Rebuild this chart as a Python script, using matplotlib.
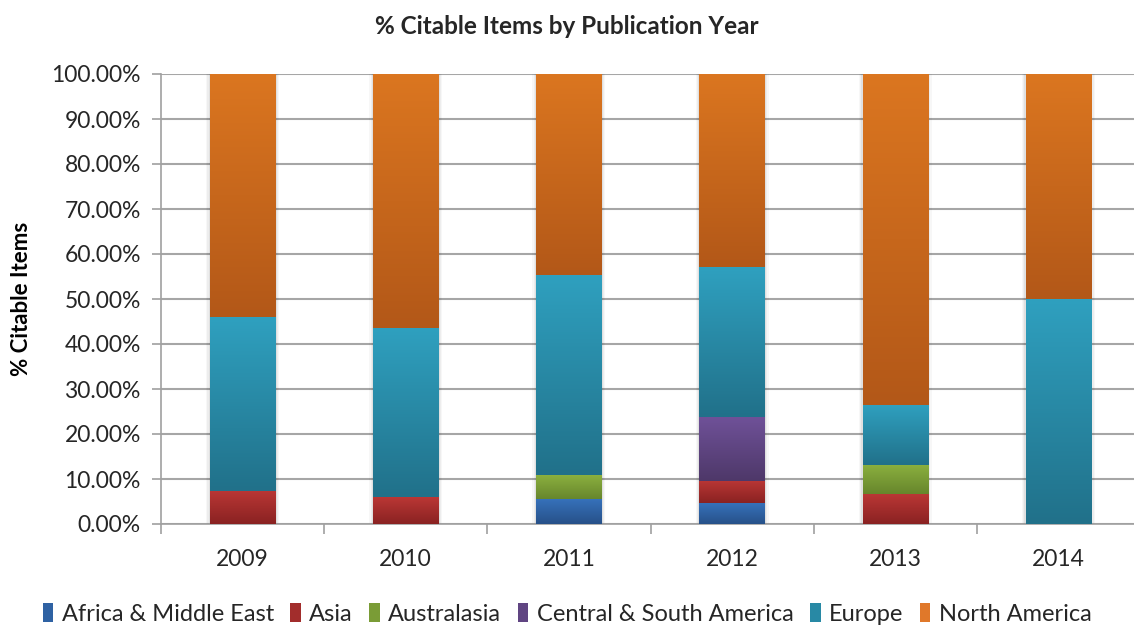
import numpy as np
import matplotlib.pyplot as plt
from matplotlib.patches import Patch, Rectangle
from matplotlib.colors import to_rgb
from matplotlib.ticker import PercentFormatter

plt.rcParams['font.family'] = ['Lato', 'DejaVu Sans']
plt.rcParams['text.color'] = '#262626'

years = ['2009', '2010', '2011', '2012', '2013', '2014']
regions = ['Africa & Middle East', 'Asia', 'Australasia',
           'Central & South America', 'Europe', 'North America']

# share of citable items per region (%), one list per region
africa_me = [0.0, 0.0, 5.5, 4.6, 0.0, 0.0]
asia = [7.4, 5.9, 0.0, 4.9, 6.6, 0.0]
australasia = [0.0, 0.0, 5.3, 0.0, 6.5, 0.0]
central_south_am = [0.0, 0.0, 0.0, 14.2, 0.0, 0.0]
europe = [38.5, 37.7, 44.5, 33.3, 13.4, 50.0]
north_america = [54.1, 56.4, 44.7, 43.0, 73.5, 50.0]

series = [africa_me, asia, australasia, central_south_am, europe, north_america]

# (top colour, bottom colour) of the vertical gradient in each segment
grads = [('#3671BA', '#275189'),
         ('#BA3735', '#8A2222'),
         ('#8BB03F', '#67862C'),
         ('#6F5198', '#4E3869'),
         ('#2FA0BF', '#21718A'),
         ('#DB7620', '#B35818')]
legend_cols = ['#2F62A3', '#A22D2C', '#7A9C36', '#604582', '#2889A5', '#E0782A']

fig = plt.figure(figsize=(11.34, 6.28), dpi=100)
ax = fig.add_axes([161 / 1134, 1 - 524 / 628, 979 / 1134, 450 / 628])

width = 0.4
x = np.arange(len(years))


def gradient_bar(ax, xc, y0, h, top, bottom):
    t = np.array(to_rgb(top))
    b = np.array(to_rgb(bottom))
    k = np.linspace(0, 1, 64)[:, None]
    img = (t * (1 - k) + b * k)[:, None, :]
    ax.imshow(img, extent=[xc - width / 2, xc + width / 2, y0, y0 + h],
              aspect='auto', origin='upper', zorder=3, interpolation='bilinear')


for i, xc in enumerate(x):
    # soft shadow around the whole column
    for j, a in enumerate([0.05, 0.04, 0.03]):
        pad = 0.008 * (j + 1)
        ax.add_patch(Rectangle((xc - width / 2 - pad, -0.3 * (j + 1) * 0.3),
                               width + 2 * pad, 100 + 0.3 * (j + 1) * 0.6,
                               facecolor='black', alpha=a, edgecolor='none', zorder=2))
    bottom = 0.0
    for s, (top_c, bot_c) in zip(series, grads):
        v = s[i]
        if v > 0:
            gradient_bar(ax, xc, bottom, v, top_c, bot_c)
        bottom += v

ax.set_xlim(-0.5, len(years) - 0.5)
ax.set_ylim(0, 100)
ax.set_yticks(np.arange(0, 101, 10))
ax.yaxis.set_major_formatter(PercentFormatter(decimals=2))
ax.set_xticks(x)
ax.set_xticklabels(years)
ax.set_xticks(np.arange(-0.5, len(years)), minor=True)
ax.tick_params(axis='x', which='major', length=0, pad=18, labelsize=16.5,
               labelcolor='#262626')
ax.tick_params(axis='x', which='minor', length=7.5, color='#A0A0A0', width=1.2)
ax.tick_params(axis='y', length=6.5, color='#A0A0A0', width=1.2, labelsize=16.5,
               pad=8, labelcolor='#262626')
ax.grid(axis='y', color='#A6A6A6', linewidth=1.5, zorder=0)
ax.set_axisbelow(True)
for side in ['top', 'right']:
    ax.spines[side].set_visible(False)
for side in ['left', 'bottom']:
    ax.spines[side].set_color('#A0A0A0')
    ax.spines[side].set_linewidth(1.2)

ax.set_ylabel('% Citable Items', fontsize=16, fontweight='bold', labelpad=14)
fig.text(0.5, 1 - 26 / 628, '% Citable Items by Publication Year',
         ha='center', va='center', fontsize=17.5, fontweight='bold')

handles = [Patch(facecolor=c, edgecolor='none') for c in legend_cols]
fig.legend(handles, regions, loc='center', bbox_to_anchor=(0.5, 1 - 614 / 628),
           ncol=6, frameon=False, fontsize=17, handlelength=0.45, handleheight=0.85,
           handletextpad=0.35, columnspacing=0.7)

fig.savefig('out.png', dpi=100)
